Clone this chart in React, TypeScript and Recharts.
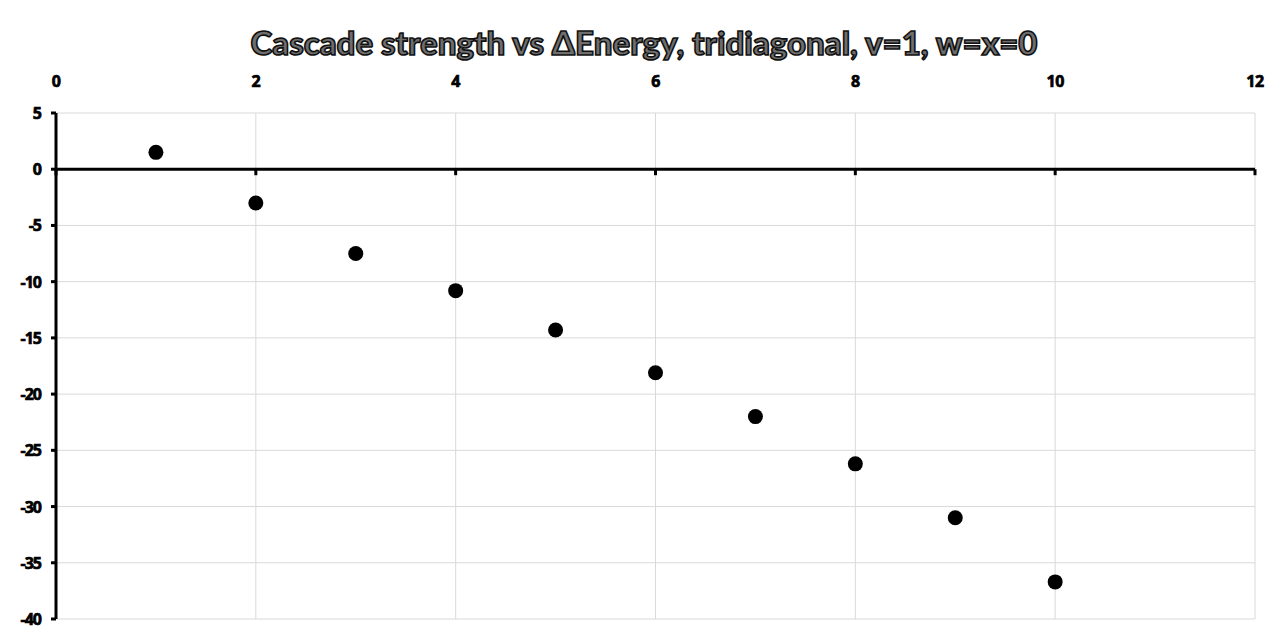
import React from "react";
import {
  ScatterChart, Scatter, XAxis, YAxis, CartesianGrid, ReferenceLine,
} from "recharts";

const xValues = [1, 2, 3, 4, 5, 6, 7, 8, 9, 10];
const strength = [1.5, -3.0, -7.5, -10.8, -14.3, -18.1, -22.0, -26.2, -31.0, -36.7];
const xTicks = [0, 2, 4, 6, 8, 10, 12];
const yTicks = [5, 0, -5, -10, -15, -20, -25, -30, -35, -40];

const points = xValues.map((x, i) => ({ x, y: strength[i] }));
const zeroTicks = xTicks.map((x) => ({ x, y: 0 }));

const FONT = "Lato, 'Open Sans', sans-serif";
const TICK_FONT = "'Open Sans', 'DejaVu Sans', sans-serif";

const Dot = (props: any) => (
  <circle cx={props.cx} cy={props.cy} r={7.5} fill="#000" />
);

// small downward tick marks along the y=0 axis line
const ZeroTick = (props: any) => (
  <line x1={props.cx} y1={props.cy} x2={props.cx} y2={props.cy + 6} stroke="#000" strokeWidth={3} />
);

const XTick = ({ x, y, payload }: any) => (
  <text x={x} y={y - 18} textAnchor="middle" fill="#000" stroke="#000" strokeWidth={0.7}
    fontSize={16} fontWeight="bold" fontFamily={TICK_FONT} letterSpacing={-0.5}>
    {payload.value}
  </text>
);

const YTick = ({ x, y, payload }: any) => (
  <text x={x - 8} y={y + 6} textAnchor="end" fill="#000" stroke="#000" strokeWidth={0.7}
    fontSize={16} fontWeight="bold" fontFamily={TICK_FONT} letterSpacing={-1}>
    {payload.value}
  </text>
);

export default function App() {
  return (
    <div style={{ position: "absolute", left: 0, top: 0, width: 1288, height: 643, background: "#fff" }}>
      <div
        style={{
          position: "absolute", left: 0, top: 22, width: 1288, textAlign: "center",
          fontFamily: FONT, fontWeight: 900, fontSize: 33, color: "#6e6e6e",
          WebkitTextStroke: "1.6px #111", lineHeight: "40px",
        }}
      >
        Cascade strength vs ΔEnergy, tridiagonal, v=1, w=x=0
      </div>
      <ScatterChart width={1288} height={643} margin={{ top: 83, right: 33, bottom: 24, left: 16 }}>
        <CartesianGrid stroke="#d9d9d9" strokeWidth={1} />
        <XAxis
          type="number"
          dataKey="x"
          orientation="top"
          domain={[0, 12]}
          ticks={xTicks}
          height={30}
          axisLine={false}
          tickLine={false}
          tick={<XTick />}
        />
        <YAxis
          type="number"
          dataKey="y"
          domain={[-40, 5]}
          ticks={yTicks}
          width={40}
          axisLine={{ stroke: "#000", strokeWidth: 3 }}
          tickLine={{ stroke: "#000", strokeWidth: 3 }}
          tickSize={5}
          tick={<YTick />}
        />
        <ReferenceLine y={0} stroke="#000" strokeWidth={3} />
        <Scatter data={zeroTicks} shape={<ZeroTick />} isAnimationActive={false} />
        <Scatter data={points} shape={<Dot />} isAnimationActive={false} />
      </ScatterChart>
    </div>
  );
}
